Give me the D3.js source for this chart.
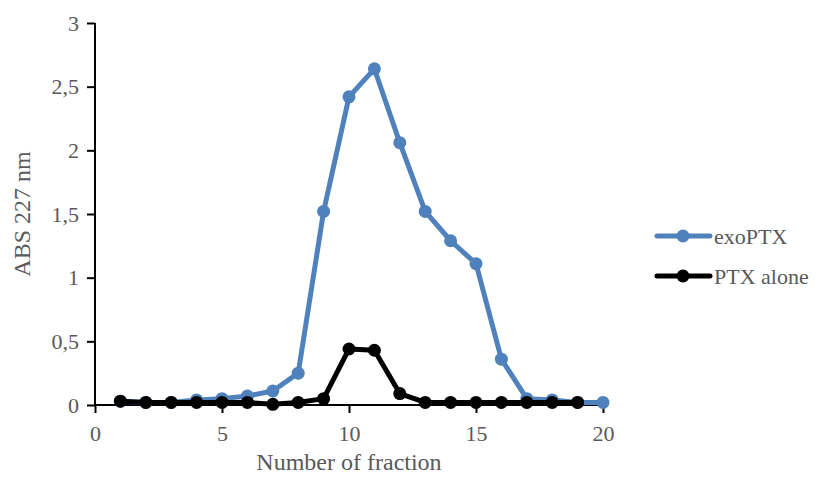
<!DOCTYPE html>
<html><head><meta charset="utf-8">
<script src="https://cdn.jsdelivr.net/npm/d3@7"></script>
<style>body{margin:0;background:#fff}svg{display:block}svg text{font-family:"Liberation Serif","Times New Roman",serif;fill:#595959}</style>
</head><body>
<svg id="c" width="818" height="477"></svg>
<script>
const fractions = [1,2,3,4,5,6,7,8,9,10,11,12,13,14,15,16,17,18,19,20];
const exoPTX = [0.03,0.02,0.02,0.04,0.05,0.07,0.11,0.25,1.52,2.42,2.64,2.06,1.52,1.29,1.11,0.36,0.05,0.04,0.02,0.02];
const ptxFractions = [1,2,3,4,5,6,7,8,9,10,11,12,13,14,15,16,17,18,19];
const ptxAlone = [0.03,0.02,0.02,0.02,0.02,0.02,0.005,0.02,0.05,0.44,0.43,0.09,0.02,0.02,0.02,0.02,0.02,0.02,0.02];
const xTicks = [0,5,10,15,20];
const yTicks = [0,0.5,1,1.5,2,2.5,3];
const seriesNames = ["exoPTX","PTX alone"];
const colors = ["#4F81BD","#000000"];

const svg = d3.select("#c");
const x = d3.scaleLinear().domain([0,20]).range([95,603]);
const y = d3.scaleLinear().domain([0,3]).range([405,23]);
const fmt = d => String(d).replace(".", ",");

const ya = svg.append("g").attr("transform","translate(95,0)")
  .call(d3.axisLeft(y).tickValues(yTicks).tickSize(8).tickPadding(8).tickFormat(fmt));
const xa = svg.append("g").attr("transform","translate(0,405)")
  .call(d3.axisBottom(x).tickValues(xTicks).tickSize(8).tickPadding(12).tickFormat(fmt));
[ya,xa].forEach(a=>{
  a.attr("font-family",null);
  a.select(".domain").attr("stroke","#000").attr("stroke-width",2);
  a.selectAll(".tick line").attr("stroke","#000").attr("stroke-width",2);
  a.selectAll(".tick text").style("font-size","22px").attr("fill","#595959");
});
ya.select(".domain").attr("d","M0,23V405");
xa.select(".domain").attr("d","M95,0H603");

svg.append("text").attr("transform","translate(22,214) rotate(-90)").attr("text-anchor","middle")
  .attr("dy","0.35em").style("font-size","24px").text("ABS 227 nm");
svg.append("text").attr("x",349).attr("y",470).attr("text-anchor","middle")
  .style("font-size","24px").text("Number of fraction");

const series = [
  {name:seriesNames[0], xs:fractions, vs:exoPTX, color:colors[0]},
  {name:seriesNames[1], xs:ptxFractions, vs:ptxAlone, color:colors[1]}
];
const line = d3.line().x(d=>x(d[0])).y(d=>y(d[1]));
series.forEach(s=>{
  const pts = s.xs.map((f,i)=>[f,s.vs[i]]);
  const g = svg.append("g");
  g.append("path").datum(pts).attr("d",line).attr("fill","none").attr("stroke",s.color)
    .attr("stroke-width",5).attr("stroke-linejoin","round").attr("stroke-linecap","round");
  g.selectAll("circle").data(pts).join("circle").attr("cx",d=>x(d[0])).attr("cy",d=>y(d[1]))
    .attr("r",6.5).attr("fill",s.color);
});

const lg = svg.append("g");
series.forEach((s,i)=>{
  const yy = 236 + i*40;
  lg.append("line").attr("x1",657).attr("x2",710).attr("y1",yy).attr("y2",yy)
    .attr("stroke",s.color).attr("stroke-width",5).attr("stroke-linecap","round");
  lg.append("circle").attr("cx",683).attr("cy",yy).attr("r",6.5).attr("fill",s.color);
  lg.append("text").attr("x",714).attr("y",yy+8).style("font-size","22px").text(s.name);
});
</script>
</body></html>
